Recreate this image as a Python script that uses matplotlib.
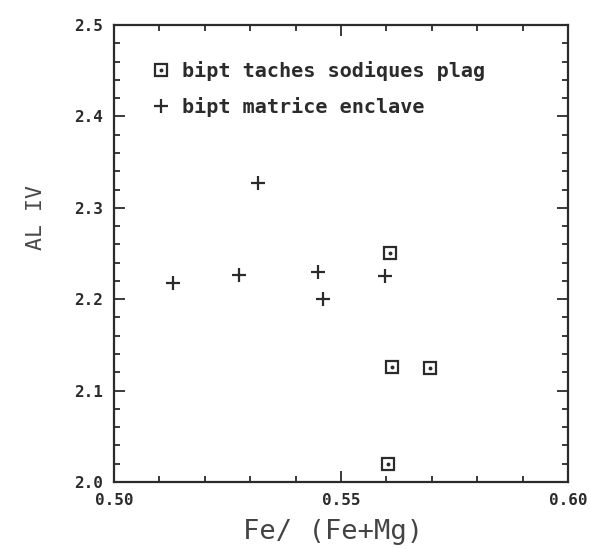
import matplotlib
matplotlib.use("Agg")
import matplotlib.pyplot as plt
from matplotlib.ticker import MultipleLocator, FixedLocator
from matplotlib.legend_handler import HandlerTuple

# Data
sq_label = "bipt taches sodiques plag"
sq_x = [0.5608, 0.5613, 0.5696, 0.5603]
sq_y = [2.2509, 2.1262, 2.1250, 2.0194]

cr_label = "bipt matrice enclave"
cr_x = [0.5129, 0.5275, 0.5318, 0.5450, 0.5461, 0.5597]
cr_y = [2.2174, 2.2265, 2.3275, 2.2294, 2.1999, 2.2250]

x_ticks = [0.50, 0.55, 0.60]
x_ticklabels = ["0.50", "0.55", "0.60"]
y_ticks = [2.0, 2.1, 2.2, 2.3, 2.4, 2.5]
y_ticklabels = ["2.0", "2.1", "2.2", "2.3", "2.4", "2.5"]
x_label = "Fe/ (Fe+Mg)"
y_label = "AL IV"

ink = "#2b2b2b"
mono = {"family": "DejaVu Sans Mono", "weight": "bold"}

fig = plt.figure(figsize=(5.9, 5.49), dpi=100)
ax = fig.add_axes([0.1932, 0.1220, 0.7695, 0.8325])

h_sq, = ax.plot(sq_x, sq_y, ls="none", marker="s", ms=8.5, mfc="none",
                mec=ink, mew=1.6)
h_dot, = ax.plot(sq_x, sq_y, ls="none", marker="o", ms=1.8, mfc=ink, mec=ink)
h_cr, = ax.plot(cr_x, cr_y, ls="none", marker="+", ms=10, mec=ink, mew=1.6)

ax.set_xlim(0.50, 0.60)
ax.set_ylim(2.0, 2.5)

ax.xaxis.set_major_locator(FixedLocator(x_ticks))
ax.set_xticklabels(x_ticklabels, fontdict=dict(mono, size=11.5), color=ink)
ax.xaxis.set_minor_locator(MultipleLocator(0.01))
ax.yaxis.set_major_locator(FixedLocator(y_ticks))
ax.set_yticklabels(y_ticklabels, fontdict=dict(mono, size=11.5), color=ink)
ax.yaxis.set_minor_locator(MultipleLocator(0.02))

ax.tick_params(which="both", direction="in", top=True, right=True,
               color=ink, width=1.3, labelcolor=ink)
ax.tick_params(which="major", length=8, pad=8)
ax.tick_params(which="minor", length=4)

for s in ax.spines.values():
    s.set_linewidth(1.6)
    s.set_color(ink)

ax.set_xlabel(x_label, fontsize=19.5, family="DejaVu Sans Mono", weight="normal",
              color="#444444")
ax.set_ylabel(y_label, fontsize=15.5, family="DejaVu Sans Mono", weight="normal",
              color="#4a4a4a")
ax.xaxis.set_label_coords(0.482, -0.080)
ax.yaxis.set_label_coords(-0.15, 0.578)

leg = ax.legend([(h_sq, h_dot), h_cr], [sq_label, cr_label],
                handler_map={tuple: HandlerTuple(ndivide=1, pad=0)},
                loc="upper left", bbox_to_anchor=(0.045, 0.96),
                frameon=False, handlelength=0.8, handletextpad=0.65,
                labelspacing=0.8, prop=dict(mono, size=14.5))
for t in leg.get_texts():
    t.set_color(ink)

fig.savefig("out.png", dpi=100, facecolor="white")
